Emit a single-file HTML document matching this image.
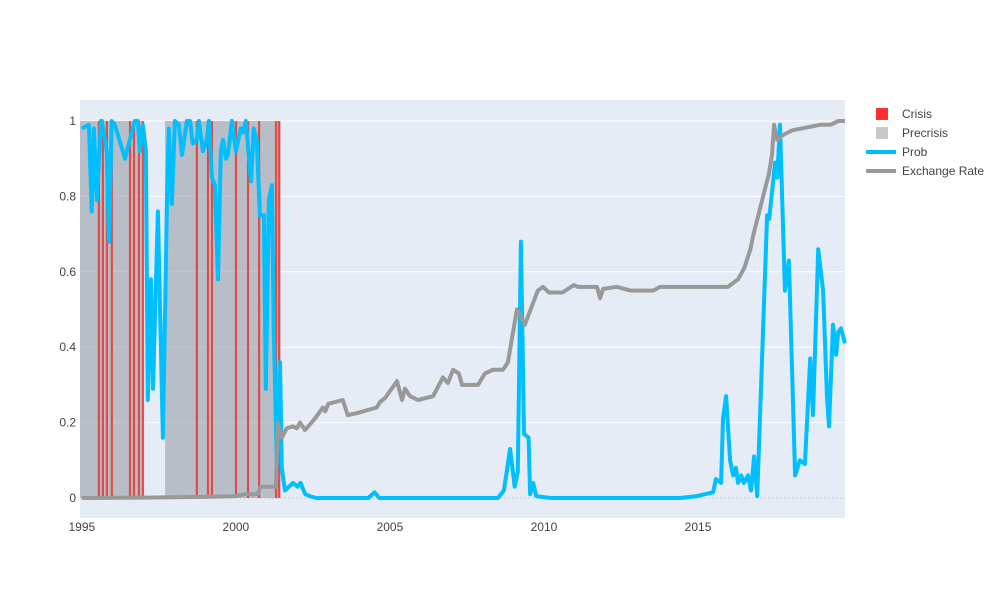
<!DOCTYPE html>
<html><head><meta charset="utf-8"><style>
body{margin:0;background:#fff;width:1000px;height:600px;overflow:hidden}
svg text{font-family:"Liberation Sans",sans-serif;fill:#444}
</style></head><body>
<svg id="chart" width="1000" height="600"></svg>
<script>
const precrisisRanges = [[1994.94, 1997.0], [1997.7, 2001.45]];
const crisisDates = [1995.55,1995.68,1995.81,1995.97,1996.56,1996.69,1996.85,1996.98,1998.73,1999.09,1999.22,2000.0,2000.39,2000.75,2001.30,2001.40];
const probYears = [1995,1995.23,1995.32,1995.39,1995.49,1995.62,1995.65,1995.81,1995.88,1995.97,1996.07,1996.4,1996.72,1996.82,1996.88,1996.98,1997.08,1997.14,1997.24,1997.31,1997.47,1997.63,1997.76,1997.82,1997.92,1998.02,1998.15,1998.25,1998.41,1998.51,1998.6,1998.73,1998.8,1998.93,1999.06,1999.12,1999.22,1999.32,1999.42,1999.51,1999.58,1999.68,1999.74,1999.87,2000,2000.16,2000.23,2000.32,2000.49,2000.58,2000.68,2000.78,2000.91,2000.97,2001.07,2001.17,2001.23,2001.33,2001.43,2001.49,2001.59,2001.85,2002.0,2002.1,2002.25,2002.4,2002.6,2004.3,2004.5,2004.65,2005,2008.5,2008.7,2008.9,2009.05,2009.15,2009.25,2009.35,2009.5,2009.55,2009.65,2009.75,2010.2,2014.42,2014.97,2015.49,2015.58,2015.75,2015.81,2015.91,2016.04,2016.14,2016.23,2016.3,2016.4,2016.49,2016.62,2016.72,2016.82,2016.92,2017.24,2017.31,2017.5,2017.57,2017.66,2017.82,2017.95,2018.15,2018.31,2018.47,2018.64,2018.73,2018.9,2019.06,2019.19,2019.25,2019.38,2019.48,2019.55,2019.64,2019.77];
const probValues = [0.98,0.99,0.76,0.98,0.79,1.0,1.0,0.92,0.68,1.0,0.99,0.9,1.0,1.0,0.92,0.99,0.92,0.26,0.58,0.29,0.76,0.16,0.78,0.98,0.78,1.0,0.99,0.91,1.0,1.0,0.94,0.95,1.0,0.92,0.95,1.0,0.85,0.83,0.58,0.92,0.95,0.9,0.91,1.0,0.92,0.98,0.97,1.0,0.84,0.98,0.95,0.75,0.75,0.29,0.79,0.83,0.44,0.09,0.36,0.08,0.02,0.04,0.03,0.04,0.01,0.005,0.0,0.0,0.015,0.0,0.0,0.0,0.02,0.13,0.03,0.07,0.68,0.17,0.16,0.01,0.04,0.005,0.0,0.0,0.005,0.015,0.05,0.04,0.21,0.27,0.10,0.06,0.08,0.04,0.06,0.04,0.06,0.02,0.11,0.005,0.75,0.74,0.89,0.85,0.99,0.55,0.63,0.06,0.10,0.09,0.37,0.22,0.66,0.55,0.26,0.19,0.46,0.38,0.44,0.45,0.41];
const fxYears = [1995,1997,1999,2000,2000.3,2000.7,2000.8,2001.3,2001.36,2001.49,2001.65,2001.85,2001.98,2002.08,2002.24,2002.56,2002.82,2002.9,2003.0,2003.47,2003.63,2003.92,2004.57,2004.68,2004.84,2005.23,2005.39,2005.49,2005.65,2005.91,2006.4,2006.72,2006.88,2007.05,2007.24,2007.34,2007.86,2008.08,2008.34,2008.67,2008.83,2009.12,2009.38,2009.8,2009.97,2010.16,2010.6,2010.97,2011.1,2011.72,2011.82,2011.92,2012.37,2012.8,2013.54,2013.77,2014.42,2015.97,2016.3,2016.5,2016.7,2016.8,2017.3,2017.4,2017.47,2017.57,2017.7,2018.05,2018.96,2019.3,2019.55,2019.77];
const fxValues = [0,0.001,0.003,0.005,0.01,0.01,0.03,0.03,0.20,0.16,0.185,0.19,0.185,0.20,0.18,0.21,0.24,0.23,0.25,0.26,0.22,0.225,0.24,0.255,0.265,0.31,0.26,0.29,0.27,0.26,0.27,0.32,0.305,0.34,0.33,0.30,0.30,0.33,0.34,0.34,0.36,0.50,0.46,0.55,0.56,0.545,0.545,0.565,0.56,0.56,0.53,0.555,0.56,0.55,0.55,0.56,0.56,0.56,0.58,0.61,0.66,0.70,0.86,0.91,0.99,0.95,0.96,0.975,0.99,0.99,1.0,1.0];
const yTicks = [0,0.2,0.4,0.6,0.8,1];
const yTickLabels = ["0","0.2","0.4","0.6","0.8","1"];
const xTicks = [1995,2000,2005,2010,2015];

const NS="http://www.w3.org/2000/svg";
const svg=document.getElementById('chart');
const L=80,R=845,T=100,B=518;
const X0=1994.94,X1=2019.77;
const xs=v=>L+(v-X0)/(X1-X0)*(R-L);
const ys=v=>498-v*377;
function mk(tag,attrs,parent){const e=document.createElementNS(NS,tag);for(const k in attrs)e.setAttribute(k,attrs[k]);(parent||svg).appendChild(e);return e;}

const bg=mk('rect',{x:L,y:T,width:R-L,height:B-T,fill:'#e5ecf6'});


yTicks.forEach((t,i)=>{
  if(t>0){const g=mk('line',{x1:L,x2:R,y1:ys(t),y2:ys(t),stroke:'#fff','stroke-width':1});
  
  }
  const tx=mk('text',{x:76,y:ys(t)+4,'text-anchor':'end','font-size':12});tx.textContent=yTickLabels[i];
  
  
});
const zl=mk('line',{x1:L,x2:R,y1:ys(0),y2:ys(0),stroke:'#ccc','stroke-width':1,'stroke-dasharray':'2,2'});


xTicks.forEach(t=>{
  const tx=mk('text',{x:xs(t),y:531,'text-anchor':'middle','font-size':12});tx.textContent=String(t);
  
  
});
precrisisRanges.forEach(r=>{
  const e=mk('rect',{x:xs(r[0]),y:ys(1),width:xs(r[1])-xs(r[0]),height:ys(0)-ys(1),fill:'#9aa0a8','fill-opacity':0.6});
  
  
});
crisisDates.forEach(d=>{
  const e=mk('rect',{x:xs(d)-1,y:ys(1),width:2.2,height:ys(0)-ys(1),fill:'#e8302a','fill-opacity':0.8});
  
  
});
function line(xa,ya,color,name){
  const d=xa.map((x,i)=>(i?'L':'M')+xs(x).toFixed(1)+','+ys(ya[i]).toFixed(1)).join('');
  const p=mk('path',{d:d,fill:'none',stroke:color,'stroke-width':4,'stroke-linejoin':'round'});
  
  
}
line(probYears,probValues,'#00bfff','prob-line');
line(fxYears,fxValues,'#999999','exchange-rate-line');

const items=[['Crisis','sq','#ff3030'],['Precrisis','sq','#c8c8c8'],['Prob','ln','#00bfff'],['Exchange Rate','ln','#999']];
items.forEach((it,i)=>{
  const y=114+i*19;
  const g=mk('g',{});
  
  
  if(it[1]==='sq')mk('rect',{x:876,y:y-6,width:12,height:12,fill:it[2]},g);
  else mk('line',{x1:866,x2:896,y1:y,y2:y,stroke:it[2],'stroke-width':4},g);
  const t=mk('text',{x:902,y:y+4,'font-size':12},g);t.textContent=it[0];
});
</script>
</body></html>
